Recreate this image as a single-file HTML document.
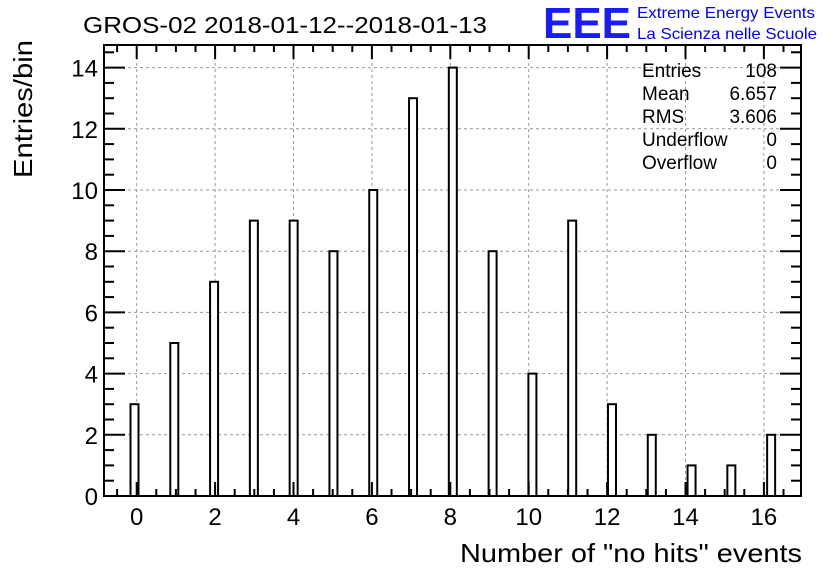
<!DOCTYPE html>
<html><head><meta charset="utf-8"><style>
body{margin:0;background:#fff;}
svg text{font-family:"Liberation Sans",sans-serif;}
</style></head><body>
<svg width="836" height="572" viewBox="0 0 836 572">
<rect width="836" height="572" fill="#fff"/>
<text x="83" y="33" font-size="23" textLength="404" lengthAdjust="spacingAndGlyphs">GROS-02 2018-01-12--2018-01-13</text>
<g>
<text x="543" y="38" font-size="44" font-weight="bold" fill="#1a1aff" textLength="88" lengthAdjust="spacingAndGlyphs">EEE</text>
<text x="637" y="18" font-size="16" fill="#0000ff" textLength="178" lengthAdjust="spacingAndGlyphs">Extreme Energy Events</text>
<text x="637" y="39" font-size="16" fill="#0000ff" textLength="180" lengthAdjust="spacingAndGlyphs">La Scienza nelle Scuole</text>
</g>
<g id="grid"></g>
<g id="bars"></g>
<g id="axes"></g>
<rect x="104" y="45" width="697" height="451" fill="none" stroke="#000" stroke-width="2"/>
<text transform="translate(32,178) rotate(-90)" font-size="26" textLength="138" lengthAdjust="spacingAndGlyphs">Entries/bin</text>
<text x="802" y="562" font-size="26" text-anchor="end" textLength="342" lengthAdjust="spacingAndGlyphs">Number of "no hits" events</text>
<g font-size="19">
<text x="642" y="77">Entries</text><text x="777" y="77" text-anchor="end">108</text>
<text x="642" y="100">Mean</text><text x="777" y="100" text-anchor="end">6.657</text>
<text x="642" y="123">RMS</text><text x="777" y="123" text-anchor="end">3.606</text>
<text x="642" y="146">Underflow</text><text x="777" y="146" text-anchor="end">0</text>
<text x="642" y="169">Overflow</text><text x="777" y="169" text-anchor="end">0</text>
</g>
</svg>
<script>
const categories=[0,1,2,3,4,5,6,7,8,9,10,11,12,13,14,15,16];
const counts=[3,5,7,9,9,8,10,13,14,8,4,9,3,2,1,1,2];
const xTicks=[0,2,4,6,8,10,12,14,16];
const yTicks=[0,2,4,6,8,10,12,14];
const NS="http://www.w3.org/2000/svg";
const L=104,R=801,T=45,B=496;
function x(v){return 136.7+39.2*v;}
function xBar(v){return 134.5+39.79*v;}
function y(v){return 496-30.6*v;}
function mk(p,tag,a){const e=document.createElementNS(NS,tag);for(const k in a)e.setAttribute(k,a[k]);p.appendChild(e);return e;}
const grid=document.getElementById('grid'),bars=document.getElementById('bars'),axes=document.getElementById('axes');
xTicks.forEach(v=>{const l=mk(grid,'line',{x1:x(v),x2:x(v),y1:T,y2:B,stroke:'#999','stroke-dasharray':'3,3'});

});
yTicks.forEach(v=>{const l=mk(grid,'line',{x1:L,x2:R,y1:y(v),y2:y(v),stroke:'#999','stroke-dasharray':'3,3'});

});
categories.forEach((c,i)=>{const r=mk(bars,'rect',{x:xBar(c)-4,y:y(counts[i]),width:8,height:B-y(counts[i]),fill:'#fff',stroke:'#000','stroke-width':2});

});
for(let v=-0.5;v<=16.9;v+=0.5){const maj=Math.abs(v%2)<1e-6;const len=maj?14:7;
mk(axes,'line',{x1:x(v),x2:x(v),y1:B,y2:B-len,stroke:'#000','stroke-width':2});
mk(axes,'line',{x1:x(v),x2:x(v),y1:T,y2:T+len,stroke:'#000','stroke-width':2});}
for(let v=0;v<=14.7;v+=0.5){const maj=Math.abs(v%2)<1e-6;const len=maj?21:10;
mk(axes,'line',{x1:L,x2:L+len,y1:y(v),y2:y(v),stroke:'#000','stroke-width':2});
mk(axes,'line',{x1:R,x2:R-len,y1:y(v),y2:y(v),stroke:'#000','stroke-width':2});}
xTicks.forEach(v=>{const t=mk(axes,'text',{x:x(v),y:525,'font-size':24,'text-anchor':'middle'});t.textContent=v;

});
yTicks.forEach(v=>{const t=mk(axes,'text',{x:98,y:y(v)+9,'font-size':24,'text-anchor':'end'});t.textContent=v;

});
</script>
</body></html>
